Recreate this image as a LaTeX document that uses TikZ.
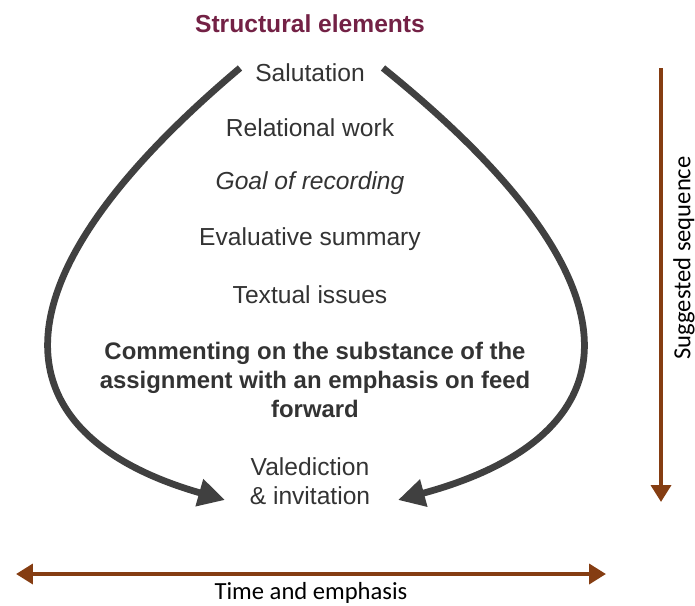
\documentclass[tikz,border=0pt]{standalone}
\usepackage{fontspec}
\setmainfont{Liberation Sans}
\newfontfamily\calibfont{Carlito}
\definecolor{title_c}{rgb}{0.45, 0.13, 0.27}
\definecolor{flow_c}{rgb}{0.25, 0.25, 0.25}
\definecolor{axis_c}{rgb}{0.52, 0.24, 0.07}
\definecolor{text_c}{rgb}{0.2, 0.2, 0.2}
\usetikzlibrary{arrows.meta}

\begin{document}
\begin{tikzpicture}[
			x=0.025cm, y=-0.025cm,
			element/.style = {text=text_c, font=\fontsize{17.5}{20}\selectfont, inner sep=1pt},
			flow/.style = {draw=flow_c, line width=4.8pt, -{Triangle[length=19pt, width=19pt]}},
			axis/.style = {draw=axis_c, line width=3.5pt},
			axislabel/.style = {text=black, font=\calibfont\fontsize{17.5}{20}\selectfont},
			]
			\useasboundingbox (0,0) rectangle (695,605);
			\node[font=\bfseries\fontsize{17.5}{20}\selectfont, text=title_c] (title) at (310,24) {Structural elements};
			\node[element] (salut) at (310,73) {Salutation};
			\node[element] (relat) at (310,128) {Relational work};
			\node[element, font=\itshape\fontsize{17.5}{20}\selectfont] (goal) at (310,183) {Goal of recording};
			\node[element] (evalu) at (310,239) {Evaluative summary};
			\node[element] (textu) at (310,295) {Textual issues};
			\node[element, font=\bfseries\fontsize{17}{20.8}\selectfont, align=center] (subst) at (315,380) {Commenting on the substance of the\\assignment with an emphasis on feed\\forward};
			\node[element, align=center, font=\fontsize{17.5}{21}\selectfont] (valed) at (310,481) {Valediction\\\& invitation};
			% curved arrows
			\coordinate (lstart) at (240,68);
			\coordinate (rstart) at (383,68);
			\coordinate (lend) at (225,500);
			\coordinate (rend) at (398,500);
			\draw[flow] (lstart) .. controls (-35,300) and (15,440) .. (lend);
			\draw[flow] (rstart) .. controls (670,300) and (620,440) .. (rend);
			% sequence and emphasis
			\coordinate (seqtop) at (661,68);
			\coordinate (seqbot) at (661,502);
			\coordinate (timel) at (16,574);
			\coordinate (timer) at (606,574);
			\draw[axis, -{Triangle[length=12pt, width=14pt]}] (seqtop) -- (seqbot);
			\draw[axis, {Triangle[length=12pt, width=14pt]}-{Triangle[length=12pt, width=14pt]}] (timel) -- (timer);
			\node[axislabel, rotate=90] (seq) at (684,258) {Suggested sequence};
			\node[axislabel] (time) at (311,593) {Time and emphasis};
		\end{tikzpicture}
\end{document}
